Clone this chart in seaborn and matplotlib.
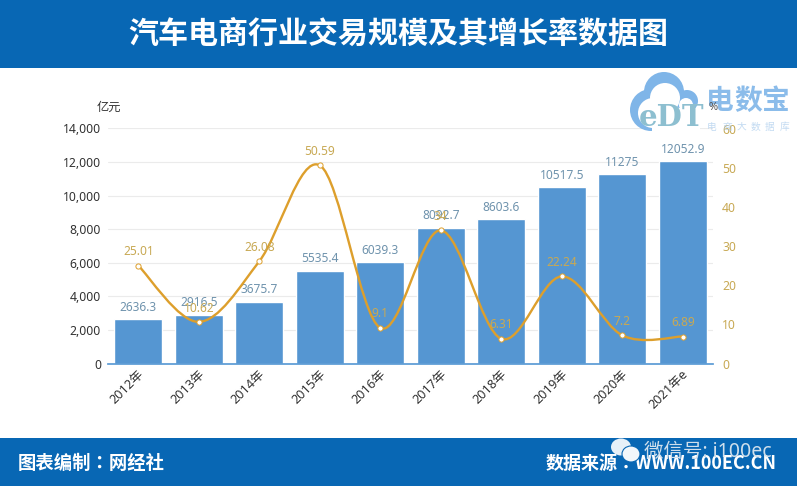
# Auto e-commerce transaction size and growth rate
import numpy as np
import pandas as pd
import matplotlib
matplotlib.use('Agg')
import matplotlib.pyplot as plt
import seaborn as sns
from matplotlib.path import Path
from matplotlib.patches import PathPatch, Rectangle, Circle, Ellipse
from matplotlib.ticker import StrMethodFormatter
from matplotlib.transforms import ScaledTranslation

sns.set_theme(style='white')
plt.rcParams['font.family'] = ['Noto Sans', 'Noto Sans CJK SC', 'DejaVu Sans']
plt.rcParams['axes.unicode_minus'] = False

df = pd.DataFrame({
    'year': ['2012年', '2013年', '2014年', '2015年', '2016年', '2017年', '2018年', '2019年', '2020年', '2021年e'],
    'size': [2636.3, 2916.5, 3675.7, 5535.4, 6039.3, 8092.7, 8603.6, 10517.5, 11275, 12052.9],
    'size_label': ['2636.3', '2916.5', '3675.7', '5535.4', '6039.3', '8092.7', '8603.6', '10517.5', '11275', '12052.9'],
    'growth': [25.01, 10.62, 26.08, 50.59, 9.1, 34, 6.31, 22.24, 7.2, 6.89],
    'growth_label': ['25.01', '10.62', '26.08', '50.59', '9.1', '34', '6.31', '22.24', '7.2', '6.89'],
})

BAND = '#0867b4'
BAR = '#5596d2'
LINE = '#dd9f2c'
GOLD = '#c8a954'
BAR_TXT = '#6f93ad'
W, H = 797, 486

fig = plt.figure(figsize=(W / 100, H / 100), dpi=100, facecolor='white')

# header / footer bands, drawn in pixel coordinates
bg = fig.add_axes([0, 0, 1, 1], zorder=0)
bg.set_xlim(0, W)
bg.set_ylim(H, 0)
bg.axis('off')
bg.add_patch(Rectangle((0, 0), W, 68, color=BAND, lw=0))
bg.add_patch(Rectangle((0, 438), W, 48, color=BAND, lw=0))
bg.text(398, 34, '汽车电商行业交易规模及其增长率数据图', color='white', fontsize=21.6,
        fontweight='bold', family='Noto Sans CJK SC', ha='center', va='center')
# TC face has the centred colon of the original
bg.text(18, 463, '图表编制：网经社', color='white', fontsize=13.2, fontweight='bold',
        family='Noto Sans CJK TC', va='center')
bg.text(777, 463, '数据来源：WWW.100EC.CN', color='white', fontsize=13, fontweight='bold',
        family='Noto Sans CJK TC', va='center', ha='right')

# bars
ax = fig.add_axes([108 / W, (H - 363.5) / H, 605 / W, 235 / H], zorder=1)
ax.patch.set_alpha(0)
sns.barplot(data=df, x='year', y='size', color=BAR, saturation=1, width=0.8, ax=ax, zorder=2)
ax.set_xlim(-0.5, 9.5)
ax.set_ylim(0, 14000)
ax.set_yticks(range(0, 14001, 2000))
ax.yaxis.set_major_formatter(StrMethodFormatter('{x:,.0f}'))
ax.grid(axis='y', color='#ebebeb', lw=0.8, zorder=0)
ax.set_axisbelow(True)
ax.set_xlabel('')
ax.set_ylabel('')
sns.despine(ax=ax, left=True, right=True, top=True)
ax.spines['bottom'].set_color('#5b9bd5')
ax.tick_params(axis='y', length=0, labelsize=8.8, labelcolor='#333333', pad=5)
ax.tick_params(axis='x', length=0, pad=3)
shift = ScaledTranslation(-1 / 100, 0, fig.dpi_scale_trans)
for lab in ax.get_xticklabels():
    lab.set(rotation=45, ha='right', rotation_mode='anchor', fontsize=9.2, color='#333333')
    lab.set_transform(lab.get_transform() + shift)
for i, (v, s) in enumerate(zip(df['size'], df['size_label'])):
    ax.annotate(s, (i, v), xytext=(0, 8.6), textcoords='offset points', ha='center',
                va='center', fontsize=8.6, color=BAR_TXT, zorder=5)

# growth rate on the right axis
ax2 = ax.twinx()
ax2.set_zorder(2)
ax2.patch.set_alpha(0)
ax2.set_ylim(0, 60)
ax2.set_yticks(range(0, 61, 10))
ax2.grid(False)
for sp in ax2.spines.values():
    sp.set_visible(False)
ax2.tick_params(axis='y', length=0, labelsize=8.8, labelcolor=GOLD, pad=6.5)
ax2.set_ylabel('')

# smoothed line like the spreadsheet one: bezier segments through the points
pts = np.column_stack([np.arange(len(df)), df['growth'].to_numpy()])
verts = [pts[0]]
codes = [Path.MOVETO]
for i in range(len(pts) - 1):
    p0 = pts[max(i - 1, 0)]
    p1, p2 = pts[i], pts[i + 1]
    p3 = pts[min(i + 2, len(pts) - 1)]
    verts += [p1 + (p2 - p0) / 6, p2 - (p3 - p1) / 6, p2]
    codes += [Path.CURVE4] * 3
ax2.add_patch(PathPatch(Path(verts, codes), fill=False, edgecolor=LINE, lw=1.7, zorder=3))
sns.scatterplot(x=pts[:, 0], y=pts[:, 1], s=14, color='white', edgecolor=LINE, linewidth=0.7,
                ax=ax2, zorder=4, clip_on=False)
for i, (v, s) in enumerate(zip(df['growth'], df['growth_label'])):
    ax2.annotate(s, (i, v), xytext=(0, 10), textcoords='offset points', ha='center',
                 va='center', fontsize=8.6, color=GOLD, zorder=6)

# units and watermarks on top
fg = fig.add_axes([0, 0, 1, 1], zorder=3)
fg.set_xlim(0, W)
fg.set_ylim(H, 0)
fg.axis('off')
fg.patch.set_alpha(0)
fg.text(109, 107, '亿元', fontsize=8.8, color='#333333', ha='center', va='center')
fg.text(713, 107, '%', fontsize=8, color='#555555', ha='center', va='center', zorder=4)

CLOUD = '#7fb5e8'
for x, y, r in [(651, 110, 21), (664, 92, 20), (687, 101, 11)]:
    fg.add_patch(Circle((x, y), r, color=CLOUD, lw=0, zorder=2))
for x, y, r in [(653, 113, 15), (665, 98, 15), (686, 105, 7)]:
    fg.add_patch(Circle((x, y), r, color='white', lw=0, zorder=2))
fg.add_patch(Rectangle((652, 108), 48, 24, color='white', lw=0, zorder=2))
fg.text(672, 117, 'eDT', fontsize=21, family='DejaVu Serif', fontweight='bold', color='#8dbfd0',
        ha='center', va='center', zorder=3)
for x, c in zip([720, 748, 776], '电数宝'):
    fg.text(x, 101, c, fontsize=20, fontweight='bold', family='Noto Sans CJK SC', color=CLOUD,
            alpha=0.9, ha='center', va='center', zorder=3)
for x, c in zip([712, 727, 741, 756, 770, 785], '电商大数据库'):
    fg.text(x, 127, c, fontsize=7, color='#a9cbec', alpha=0.7, ha='center', va='center', zorder=3)

fg.add_patch(Ellipse((621, 447), 20, 17, color='#e6f0f8', lw=0, zorder=2))
fg.add_patch(Ellipse((631, 454), 18, 16, color='#f2f7fb', ec=BAND, lw=0.8, zorder=2))
fg.text(708, 452, '微信号: i100ec', fontsize=14, color='#cfdfec', ha='center', va='center', zorder=3)

fig.savefig('out.png', dpi=100)
